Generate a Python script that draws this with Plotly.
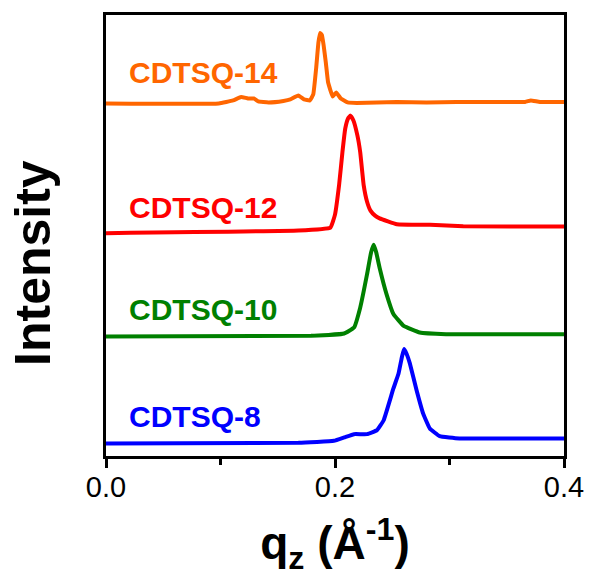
import plotly.graph_objects as go

# q_z (1/Å) and intensity (arbitrary, offset-stacked) for each sample
q14 = [0.0, 0.0985, 0.111, 0.118, 0.124, 0.129, 0.133, 0.142, 0.155, 0.161, 0.168, 0.173,
       0.178, 0.181, 0.1835, 0.1855, 0.187, 0.1885, 0.190, 0.192, 0.194, 0.198, 0.201, 0.205,
       0.211, 0.219, 0.254, 0.280, 0.306, 0.366, 0.371, 0.379, 0.4]
i14 = [355, 355, 358, 361.5, 360, 360, 357, 356, 357.5, 359, 363, 359,
       358, 364, 390, 416, 426, 424, 414, 396, 376, 362, 366, 360,
       356, 355.5, 356.5, 356, 356.5, 356.5, 358, 356.5, 356.5]

q12 = [0.0, 0.168, 0.196, 0.200, 0.2036, 0.2065, 0.209, 0.2115, 0.2135, 0.216, 0.2195,
       0.222, 0.225, 0.228, 0.231, 0.235, 0.239, 0.254, 0.283, 0.312, 0.4]
i12 = [224.3, 227, 230, 243, 273, 306, 330, 340, 342.7, 338, 323,
       306, 273, 256, 247, 242, 239.3, 233.3, 232.7, 231.3, 231]

q10 = [0.0, 0.179, 0.208, 0.2166, 0.222, 0.228, 0.2315, 0.2338, 0.236, 0.239, 0.245,
       0.251, 0.26, 0.274, 0.297, 0.4]
i10 = [120.3, 121, 123.3, 129.3, 149.3, 183, 205, 212.7, 205, 189.3, 163,
       143, 131, 124.3, 122.7, 122.7]

q8 = [0.0, 0.168, 0.199, 0.208, 0.2166, 0.228, 0.2367, 0.2425, 0.251, 0.2555, 0.2585,
      0.2603, 0.2625, 0.2655, 0.2713, 0.277, 0.2828, 0.2914, 0.3087, 0.4]
i8 = [12.7, 13.3, 15.3, 18.7, 22, 22, 26, 36, 68, 83, 100,
      107.7, 103, 92.7, 66, 42.7, 27.7, 20, 17.7, 17.7]

names = ["CDTSQ-14", "CDTSQ-12", "CDTSQ-10", "CDTSQ-8"]
colors = ["#FF6600", "#FF0000", "#008000", "#0000FF"]
label_y = [386, 250, 148, 40]

fig = go.Figure()
for q, inten, c in zip([q14, q12, q10, q8], [i14, i12, i10, i8], colors):
    fig.add_trace(go.Scatter(x=q, y=inten, mode="lines",
                             line=dict(color=c, width=4, shape="spline", smoothing=0.3),
                             showlegend=False, hoverinfo="skip"))

for n, c, ly in zip(names, colors, label_y):
    fig.add_annotation(x=0.018, y=ly, xref="x", yref="y", text="<b>%s</b>" % n,
                       showarrow=False, xanchor="left", yanchor="middle",
                       font=dict(family="Liberation Sans, Arial", size=30, color=c))

fig.add_annotation(x=-0.158, y=0.437, xref="paper", yref="paper", text="<b>Intensity</b>",
                   textangle=-90, showarrow=False, xanchor="center", yanchor="middle",
                   font=dict(family="Liberation Sans, Arial", size=50, color="black"))

fig.update_layout(
    width=596, height=582,
    margin=dict(l=106, r=27, t=12, b=126),
    paper_bgcolor="white", plot_bgcolor="white",
    font=dict(family="Liberation Sans, Arial", color="black"),
    xaxis=dict(range=[0, 0.4], tickvals=[0.0, 0.2, 0.4], ticktext=["0.0", "0.2", "0.4"],
               ticks="outside", ticklen=9, tickwidth=3, tickcolor="black",
               ticklabelstandoff=-6,
               showline=True, linewidth=3, linecolor="black", mirror=True,
               showgrid=False, zeroline=False,
               tickfont=dict(size=29, color="black"),
               minor=dict(tickvals=[0.1, 0.3], ticks="outside", ticklen=6, tickwidth=3,
                          tickcolor="black", showgrid=False),
               title=dict(text="<b>q<sub>z</sub> (Å<sup>-1</sup>)</b>",
                          font=dict(size=46, color="black"), standoff=26)),
    yaxis=dict(range=[0, 444], showticklabels=False, ticks="",
               showline=True, linewidth=3, linecolor="black", mirror=True,
               showgrid=False, zeroline=False),
)

fig.write_html("out.html")
